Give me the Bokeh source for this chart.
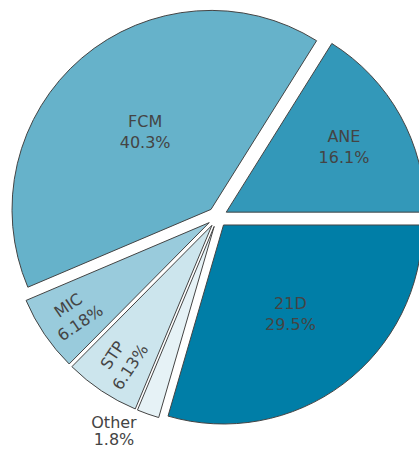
import numpy as np
from bokeh.plotting import figure
from bokeh.models import Range1d, ColumnDataSource
from bokeh.core.properties import value
from bokeh.embed import file_html
from bokeh.resources import INLINE

# data (counter-clockwise from 3 o'clock)
labels = ["ANE", "FCM", "MIC", "STP", "Other", "21D"]
percents = [16.1, 40.3, 6.18, 6.13, 1.8, 29.5]
colors = ["#3398b9", "#66b2ca", "#99cbdc", "#cce5ed", "#e6f2f6", "#007ea7"]

# layout parameters
R = 199.0          # pie radius (px)
PULL = 10.0        # pull-out of every slice (px)
label_frac = [0.676, 0.51, 0.82, 0.82, None, 0.56]
rotated = [False, False, True, True, False, False]

vals = np.array(percents, dtype=float)
frac = vals / vals.sum()
ends = np.cumsum(frac) * 2 * np.pi
starts = np.concatenate([[0.0], ends[:-1]])
mids = (starts + ends) / 2
cx = PULL * np.cos(mids)
cy = PULL * np.sin(mids)

W, H = 419, 449
X0, Y0 = 217.0, 216.5   # pie centre in figure pixels
p = figure(width=W, height=H, output_backend="svg", toolbar_location=None,
           x_range=Range1d(-X0, W - X0), y_range=Range1d(-(H - Y0), Y0),
           min_border=0)
p.axis.visible = False
p.grid.visible = False
p.outline_line_color = None
p.background_fill_color = "white"

src = ColumnDataSource(dict(x=cx, y=cy, start=starts, end=ends, color=colors))
p.wedge(x="x", y="y", radius=R, start_angle="start", end_angle="end",
        fill_color="color", line_color="#444444", line_width=1, source=src)

def fmt(v):
    return f"{v:.3g}%"

tx, ty, tt, ta = [], [], [], []
for i, lab in enumerate(labels):
    if label_frac[i] is None:
        continue
    rr = PULL + label_frac[i] * R
    tx.append(rr * np.cos(mids[i]))
    ty.append(rr * np.sin(mids[i]))
    tt.append(f"{lab}\n{fmt(percents[i])}")
    ta.append(mids[i] - np.pi if rotated[i] else 0.0)

p.text(x=tx, y=ty, text=tt, angle=ta, text_align="center", text_baseline="middle",
       text_font=value("DejaVu Sans"), text_font_size="16px", text_color="#444444",
       text_line_height=1.12)

# outside label for the small slice (two lines placed below the slice tip)
k = labels.index("Other")
ox = (PULL + R) * np.cos(mids[k])
oy = (PULL + R) * np.sin(mids[k])
p.text(x=[ox, ox], y=[oy, oy], text=[labels[k], fmt(percents[k])],
       y_offset=[8.0, 25.5], x_offset=-34,
       text_align="center", text_baseline="middle",
       text_font=value("DejaVu Sans"), text_font_size="16px", text_color="#444444")

open("out.html", "w").write(file_html(p, INLINE))
